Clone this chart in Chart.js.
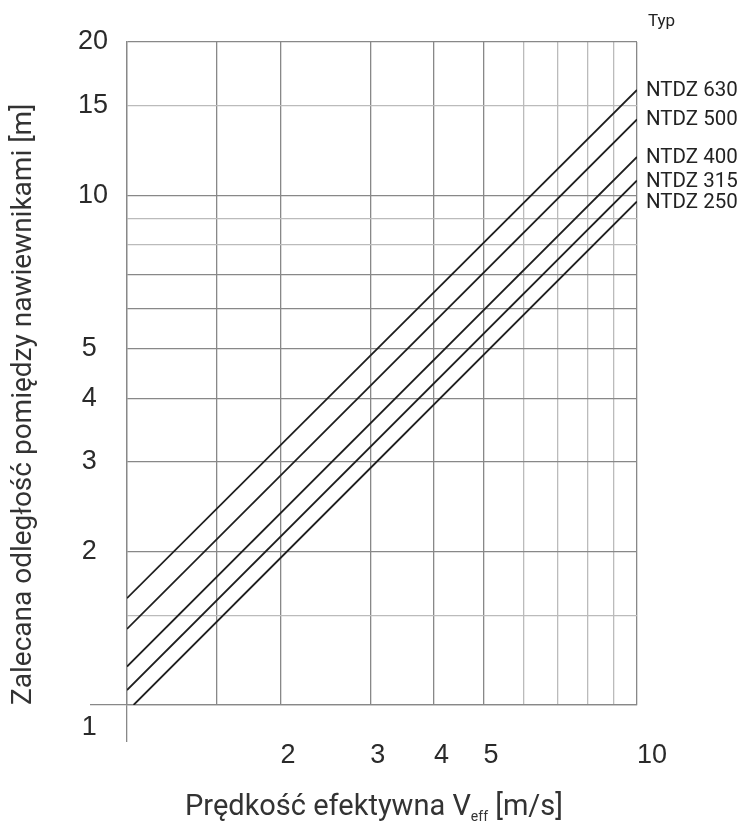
<!DOCTYPE html>
<html>
<head>
<meta charset="utf-8">
<script src="https://cdn.jsdelivr.net/npm/chart.js@4.4.1/dist/chart.umd.min.js"></script>
<style>
  html, body { margin: 0; padding: 0; background: #fff; }
  #wrap { width: 744px; height: 823px; }
</style>
</head>
<body>
<div id="wrap"><canvas id="chart"></canvas></div>
<script>
// typy nawiewników i końce prostych (skala log-log)
const types = ['NTDZ 630', 'NTDZ 500', 'NTDZ 400', 'NTDZ 315', 'NTDZ 250'];
const vStart = [1, 1, 1, 1, 1.03];
const vEnd = [10, 10, 10, 10, 10];
const distStart = [1.62, 1.41, 1.19, 1.07, 1];
const distEnd = [16.1, 14.1, 11.9, 10.7, 9.73];

// linie siatki i opisy osi
const xGrid = [1, 1.5, 2, 3, 4, 5, 6, 7, 8, 9, 10];
const xLabels = [2, 3, 4, 5, 10];
const yGrid = [1, 1.5, 2, 3, 4, 5, 6, 7, 8, 9, 10, 15, 20];
const yLabels = [1, 2, 3, 4, 5, 10, 15, 20];

const DARK = '#888';
const LIGHT = '#bbb';
const darkX = [1, 1.5, 2, 3, 4, 5, 10];
const darkY = [1, 2, 3, 4, 5, 6, 7, 10, 20];
const tickFont = 'Liberation Sans, Arial, sans-serif';
const textFont = 'Roboto, sans-serif';

const datasets = types.map((t, i) => ({
  label: t,
  data: [{ x: vStart[i], y: distStart[i] }, { x: vEnd[i], y: distEnd[i] }],
  borderColor: '#1e1e1e',
  borderWidth: 1.8,
  pointRadius: 0,
  fill: false,
  tension: 0
}));

// podpisy linii, "Typ" i tytuł osi X z indeksem dolnym
const extraText = {
  id: 'extraText',
  afterDatasetsDraw(chart) {
    const { ctx, chartArea } = chart;
    ctx.save();
    ctx.fillStyle = '#222';
    ctx.textAlign = 'left';
    ctx.textBaseline = 'middle';
    ctx.font = '20.5px ' + textFont;
    chart.data.datasets.forEach((ds, i) => {
      const pts = chart.getDatasetMeta(i).data;
      const end = pts[pts.length - 1];
      ctx.fillText(ds.label, end.x + 9, end.y + 1);
    });
    ctx.font = '17px ' + textFont;
    ctx.fillText('Typ', chartArea.right + 11, chartArea.top - 20);

    const a = 'Prędkość efektywna V', sub = 'eff', b = ' [m/s]';
    ctx.textBaseline = 'alphabetic';
    ctx.font = '29px ' + textFont;
    const wa = ctx.measureText(a).width, wb = ctx.measureText(b).width;
    ctx.font = '14px ' + textFont;
    const ws = ctx.measureText(sub).width;
    const cx = (chartArea.left + chartArea.right) / 2 - 8;
    let x = cx - (wa + ws + wb) / 2;
    ctx.fillStyle = '#333';
    ctx.font = '29px ' + textFont;
    ctx.fillText(a, x, 815);
    x += wa;
    ctx.font = '14px ' + textFont;
    ctx.fillText(sub, x, 821);
    x += ws;
    ctx.font = '29px ' + textFont;
    ctx.fillText(b, x, 815);
    ctx.restore();
  }
};

new Chart(document.getElementById('chart').getContext('2d'), {
  type: 'line',
  data: { datasets: datasets },
  options: {
    responsive: true,
    maintainAspectRatio: false,
    animation: false,
    layout: { padding: { left: 7, right: 107, top: 42, bottom: 48 } },
    plugins: {
      legend: { display: false },
      tooltip: { enabled: false }
    },
    scales: {
      x: {
        type: 'logarithmic',
        min: 1,
        max: 10,
        afterBuildTicks: s => { s.ticks = xGrid.map(v => ({ value: v })); },
        afterFit: s => { s.height = 70; },
        grid: {
          color: c => darkX.includes(c.tick && c.tick.value) ? DARK : LIGHT,
          lineWidth: 1.3,
          tickLength: 37,
          tickColor: c => c.tick && c.tick.value === 1 ? DARK : 'rgba(0,0,0,0)'
        },
        border: { display: true, color: DARK, width: 1.3 },
        ticks: {
          autoSkip: false,
          maxRotation: 0,
          align: 'start',
          padding: -3,
          color: '#2a2a2a',
          font: { family: tickFont, size: 27 },
          callback: v => xLabels.includes(v) ? String(v) : ''
        }
      },
      y: {
        type: 'logarithmic',
        min: 1,
        max: 20,
        afterBuildTicks: s => { s.ticks = yGrid.map(v => ({ value: v })); },
        afterFit: s => { s.width = 120; },
        grid: {
          color: c => darkY.includes(c.tick && c.tick.value) ? DARK : LIGHT,
          lineWidth: 1.3,
          tickLength: 37,
          tickColor: c => c.tick && c.tick.value === 1 ? DARK : 'rgba(0,0,0,0)'
        },
        border: { display: true, color: DARK, width: 1.3 },
        title: {
          display: true,
          text: 'Zalecana odległość pomiędzy nawiewnikami [m]',
          align: 'start',
          color: '#333',
          font: { family: textFont, size: 28 },
          padding: { top: 0, bottom: 0 }
        },
        ticks: {
          autoSkip: false,
          padding: -18,
          crossAlign: 'center',
          color: '#2a2a2a',
          font: c => ({ family: tickFont, size: 27, lineHeight: c.tick && c.tick.value === 1 ? 1.7 : 1.2 }),
          callback: v => {
            if (!yLabels.includes(v)) return '';
            if (v === 1) return ['', '1 '];
            return v < 10 ? v + ' ' : String(v);
          }
        }
      }
    }
  },
  plugins: [extraText]
});
</script>
</body>
</html>
